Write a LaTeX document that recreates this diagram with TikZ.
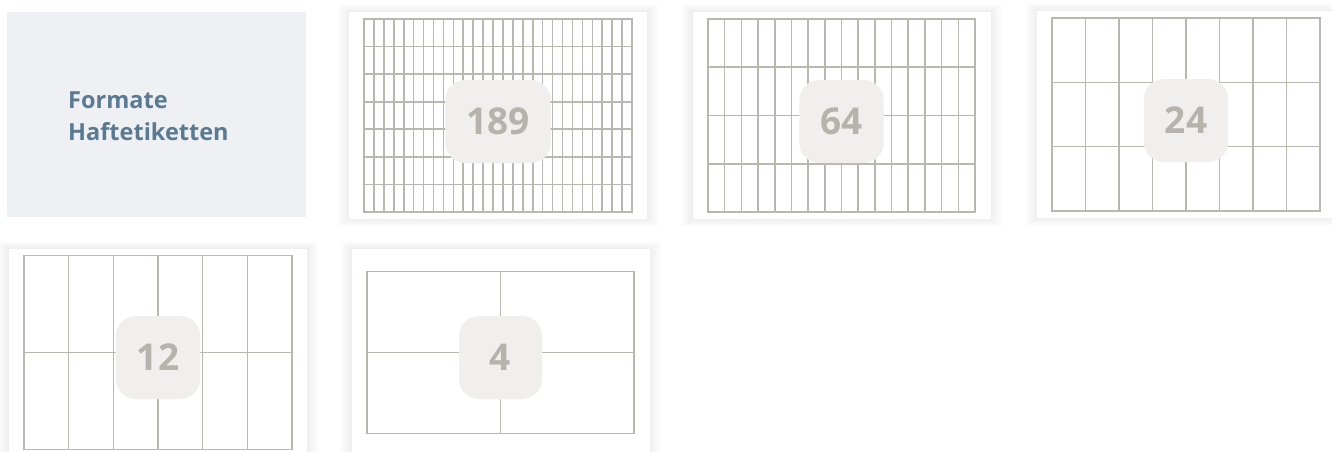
\documentclass[tikz,border=0pt]{standalone}
\usepackage{fontspec}
\setmainfont{Open Sans}
\usepackage{tikz}
\usetikzlibrary{positioning,calc,shadows}
\definecolor{titlebg}{RGB}{238,240,244}
\definecolor{titleblue}{RGB}{90,122,146}
\definecolor{gridgray}{RGB}{186,182,176}
\definecolor{badgefill}{RGB}{240,239,237}
\definecolor{badgegray}{RGB}{182,178,172}

% grid of labels on one sheet: node, width, height, columns, rows
\newcommand{\labelgrid}[5]{%
  \begin{scope}[shift={(#1.center)}]
    \draw[gridline] ({-#2/2},{-#3/2}) rectangle ({#2/2},{#3/2});
    \pgfmathtruncatemacro{\lastcol}{#4-1}
    \foreach \i in {1,...,\lastcol}
      \draw[gridline] ({-#2/2+\i*#2/#4},{-#3/2}) -- ++(0,#3);
    \pgfmathtruncatemacro{\lastrow}{#5-1}
    \foreach \j in {1,...,\lastrow}
      \draw[gridline] ({-#2/2},{-#3/2+\j*#3/#5}) -- ++(#2,0);
  \end{scope}}

\begin{document}
\begin{tikzpicture}[x=1pt, y=-1pt,
  glow/.style={general shadow={fill=black, opacity=.008, shadow xshift=0pt, shadow yshift=0pt, shadow scale=#1}},
  sheet/.style={fill=white, inner sep=0pt, minimum width=298pt, minimum height=207pt,
    glow=1.08, glow=1.07, glow=1.06, glow=1.05, glow=1.04, glow=1.03, glow=1.02, glow=1.01},
  gridline/.style={draw=gridgray, line width=1.6pt},
  badge/.style={fill=badgefill, rounded corners=20pt, minimum width=83pt, minimum height=83pt,
    inner xsep=21pt, text=badgegray, font=\fontsize{37}{37}\selectfont\bfseries}]
\useasboundingbox[fill=white] (0,0) rectangle (1332,452);

\node[fill=titlebg, minimum width=299pt, minimum height=205pt] (titlebox) at (156.5,114.5) {};
\node[anchor=west, inner sep=0pt, align=left, text=titleblue,
  font=\fontsize{23.5}{32}\selectfont\bfseries] (title) at (68,116) {Formate\\Haftetiketten};

\node[sheet] (sheet189) at (498,115.5) {};
\node[sheet] (sheet64) at (841.5,115.5) {};
\node[sheet] (sheet24) at (1186,114.5) {};
\node[sheet] (sheet12) at (158,352.5) {};
\node[sheet] (sheet4) at (500.5,352.5) {};

\labelgrid{sheet189}{268}{193}{27}{7}
\labelgrid{sheet64}{267}{193}{16}{4}
\labelgrid{sheet24}{268}{193}{8}{3}
\labelgrid{sheet12}{268}{194}{6}{2}
\labelgrid{sheet4}{267}{162}{2}{2}

\node[badge] (count189) at ($(sheet189.center)+(0,6)$) {189};
\node[badge] (count64) at ($(sheet64.center)+(0,6)$) {64};
\node[badge] (count24) at ($(sheet24.center)+(0,6)$) {24};
\node[badge] (count12) at ($(sheet12.center)+(0,5)$) {12};
\node[badge] (count4) at ($(sheet4.center)+(0,5)$) {4};
\end{tikzpicture}
\end{document}
